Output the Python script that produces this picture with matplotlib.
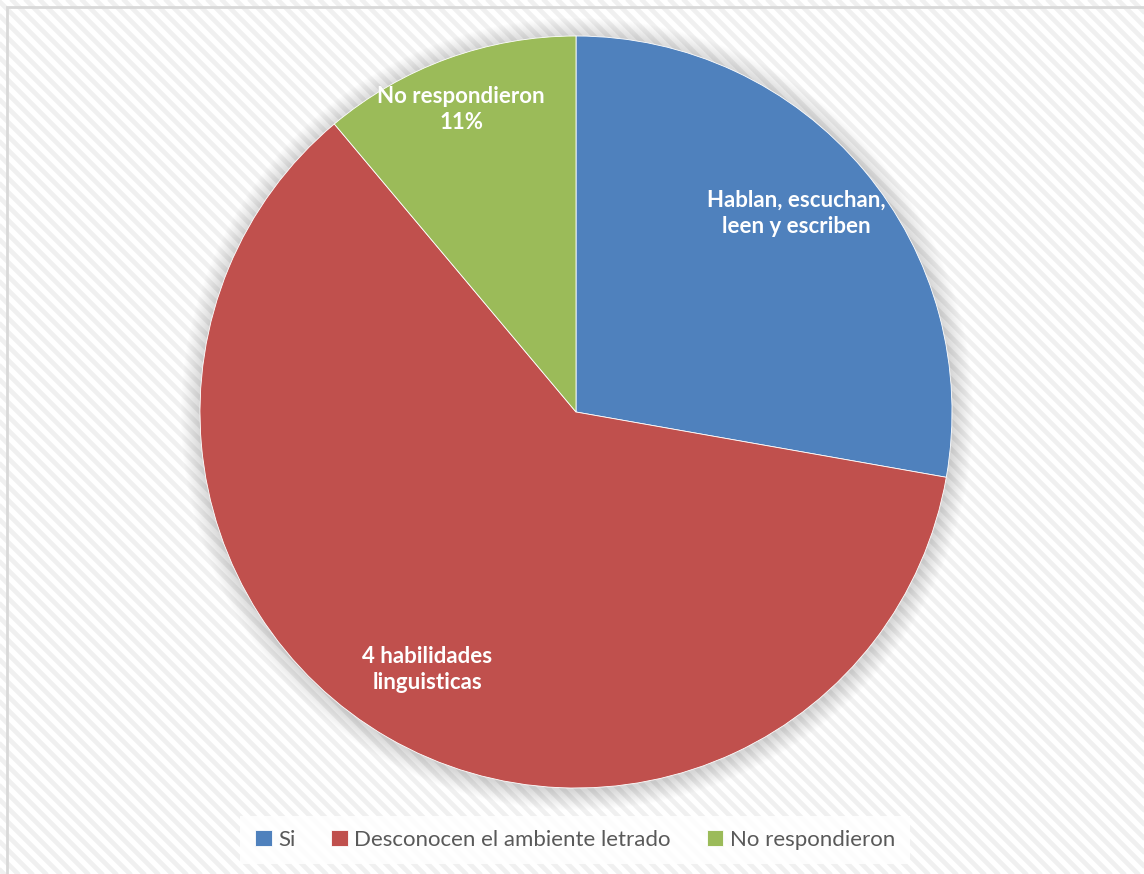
import matplotlib.pyplot as plt
from matplotlib.patches import Circle, Rectangle
from matplotlib.collections import LineCollection
import numpy as np

# Survey answers (number of respondents)
categories = ['Si', 'Desconocen el ambiente letrado', 'No respondieron']
counts = [5, 11, 2]
colors = ['#4f81bd', '#c0504d', '#9bbb59']
pct_no = round(100 * counts[2] / sum(counts))
slice_labels = ['Hablan, escuchan,\nleen y escriben',
                '4 habilidades\nlinguisticas',
                f'No respondieron\n{pct_no}%']
label_dist = [0.79, 0.79, 0.86]
label_turn = [2.0, 0.0, 0.8]   # small angular nudges, degrees

W, H = 1144, 874
fig = plt.figure(figsize=(W / 100, H / 100), dpi=100)
ax = fig.add_axes([0, 0, 1, 1])

# striped chart background
offsets = np.arange(-H - 20, W + 20, 14)
segs = [[(x0, H + 10), (x0 + H + 20, -10)] for x0 in offsets]
ax.add_collection(LineCollection(segs, colors='#f0f0f0', linewidths=3.4, zorder=0))

# chart area border
ax.add_patch(Rectangle((7, -10), W + 20, H - 7 + 10, fill=False,
                       edgecolor='#d9d9d9', linewidth=2, zorder=1))

cx, cy, R = 576, H - 412, 376

# soft glow around the pie
for k in range(20, 0, -1):
    ax.add_patch(Circle((cx + 1, cy - 2), R + k, facecolor='#8c8c8c',
                        edgecolor='none', alpha=0.014, zorder=2))

wedges, _ = ax.pie(counts, colors=colors, startangle=90, counterclock=False,
                   center=(cx, cy), radius=R, frame=True,
                   wedgeprops=dict(edgecolor='white', linewidth=0.6, zorder=3))
ax.set_xlim(0, W)
ax.set_ylim(0, H)
ax.set_aspect('equal')
ax.axis('off')

for w, lab, d, t in zip(wedges, slice_labels, label_dist, label_turn):
    ang = np.deg2rad((w.theta1 + w.theta2) / 2 + t)
    ax.text(cx + d * R * np.cos(ang), cy + d * R * np.sin(ang), lab,
            ha='center', va='center', color='white', fontsize=16,
            fontweight='bold', family='Lato', linespacing=1.3, zorder=5)

leg = ax.legend(wedges, categories, loc='center', bbox_to_anchor=(575, H - 840),
                bbox_transform=ax.transData, ncol=3, frameon=True,
                prop={'family': 'Lato', 'size': 16}, labelcolor='#595959',
                handlelength=0.75, handleheight=0.75, handletextpad=0.3,
                columnspacing=1.6, borderpad=0.65, fancybox=False)
leg.get_frame().set_facecolor('white')
leg.get_frame().set_edgecolor('none')
leg.get_frame().set_alpha(0.85)

fig.savefig('out.png', dpi=100)
